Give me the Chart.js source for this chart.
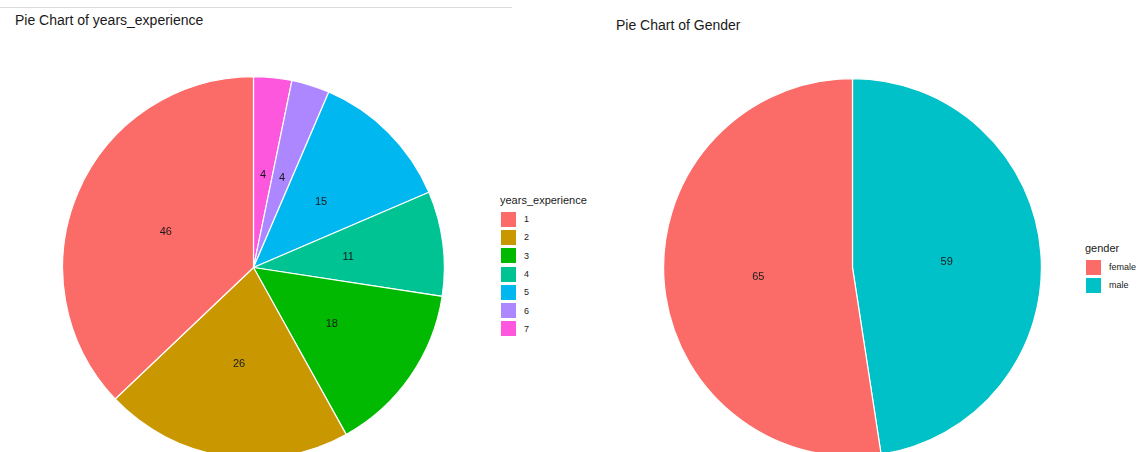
<!DOCTYPE html>
<html>
<head>
<meta charset="utf-8">
<script src="https://cdn.jsdelivr.net/npm/chart.js@4"></script>
<style>
  html, body { margin: 0; padding: 0; background: #fff; overflow: hidden; }
  body { width: 1146px; height: 452px; position: relative; font-family: "Liberation Sans", Arial, sans-serif; }
  .rule { position: absolute; left: 0; top: 7px; width: 512px; height: 1px; background: #dcdcdc; }
  .title { position: absolute; font-size: 14px; color: #1a1a1a; white-space: nowrap; }
  .box { position: absolute; }
  .legend { position: absolute; color: #1a1a1a; }
  .legend .lt { font-size: 11px; margin-bottom: 4px; white-space: nowrap; }
  .legend .row { display: flex; align-items: center; height: 18.3px; }
  .legend .key { width: 15px; height: 15px; margin-left: 1px; }
  .legend .lab { font-size: 9px; margin-left: 8px; }
</style>
</head>
<body>
<div class="rule"></div>
<div class="title" style="left:15px; top:12px;">Pie Chart of years_experience</div>
<div class="title" style="left:616px; top:17px;">Pie Chart of Gender</div>

<div class="box" style="left:62px; top:76px; width:383px; height:383px;"><canvas id="exp-chart"></canvas></div>
<div class="box" style="left:663px; top:78px; width:379px; height:379px;"><canvas id="gender-chart"></canvas></div>

<div class="legend" id="exp-legend" style="left:500px; top:194px;"></div>
<div class="legend" id="gender-legend" style="left:1085px; top:242px;"></div>

<script>
// years_experience counts, levels 1..7
const expLevels = ['1', '2', '3', '4', '5', '6', '7'];
const expCounts = [46, 26, 18, 11, 15, 4, 4];
const expColors = ['#fb6c68', '#c99800', '#00b900', '#00c394', '#00b7ef', '#ad87ff', '#fc57dd'];

// gender counts
const genderLevels = ['female', 'male'];
const genderCounts = [65, 59];
const genderColors = ['#fb6c68', '#00c0c8'];

// pie runs counter-clockwise from 12 o'clock with level 1 first,
// chart.js goes clockwise, so feed it the levels reversed
const rev = arr => arr.slice().reverse();

const sliceLabels = {
  id: 'sliceLabels',
  afterDatasetsDraw(chart) {
    const ctx = chart.ctx;
    const meta = chart.getDatasetMeta(0);
    const values = chart.data.datasets[0].data;
    ctx.save();
    ctx.font = '11px "Liberation Sans", Arial, sans-serif';
    ctx.fillStyle = '#1a1a1a';
    ctx.textAlign = 'center';
    ctx.textBaseline = 'middle';
    meta.data.forEach((arc, i) => {
      const mid = (arc.startAngle + arc.endAngle) / 2;
      const r = arc.outerRadius / 2;
      ctx.fillText(values[i], arc.x + Math.cos(mid) * r, arc.y + Math.sin(mid) * r + 2);
    });
    ctx.restore();
  }
};

const makePie = (canvasId, labels, values, colors) => {
  new Chart(document.getElementById(canvasId), {
    type: 'pie',
    data: {
      labels: rev(labels),
      datasets: [{
        data: rev(values),
        backgroundColor: rev(colors),
        borderColor: '#ffffff',
        borderWidth: 1.2
      }]
    },
    options: {
      responsive: true,
      maintainAspectRatio: false,
      animation: false,
      layout: { padding: 0 },
      plugins: {
        legend: { display: false },
        tooltip: { enabled: false }
      }
    },
    plugins: [sliceLabels]
  });
};

const makeLegend = (elId, title, labels, colors) => {
  const el = document.getElementById(elId);
  const t = document.createElement('div');
  t.className = 'lt';
  t.textContent = title;
  el.appendChild(t);
  labels.forEach((label, i) => {
    const row = document.createElement('div');
    row.className = 'row';
    const key = document.createElement('span');
    key.className = 'key';
    key.style.background = colors[i];
    const lab = document.createElement('span');
    lab.className = 'lab';
    lab.textContent = label;
    row.appendChild(key);
    row.appendChild(lab);
    el.appendChild(row);
  });
};

makePie('exp-chart', expLevels, expCounts, expColors);
makePie('gender-chart', genderLevels, genderCounts, genderColors);
makeLegend('exp-legend', 'years_experience', expLevels, expColors);
makeLegend('gender-legend', 'gender', genderLevels, genderColors);
</script>
</body>
</html>
